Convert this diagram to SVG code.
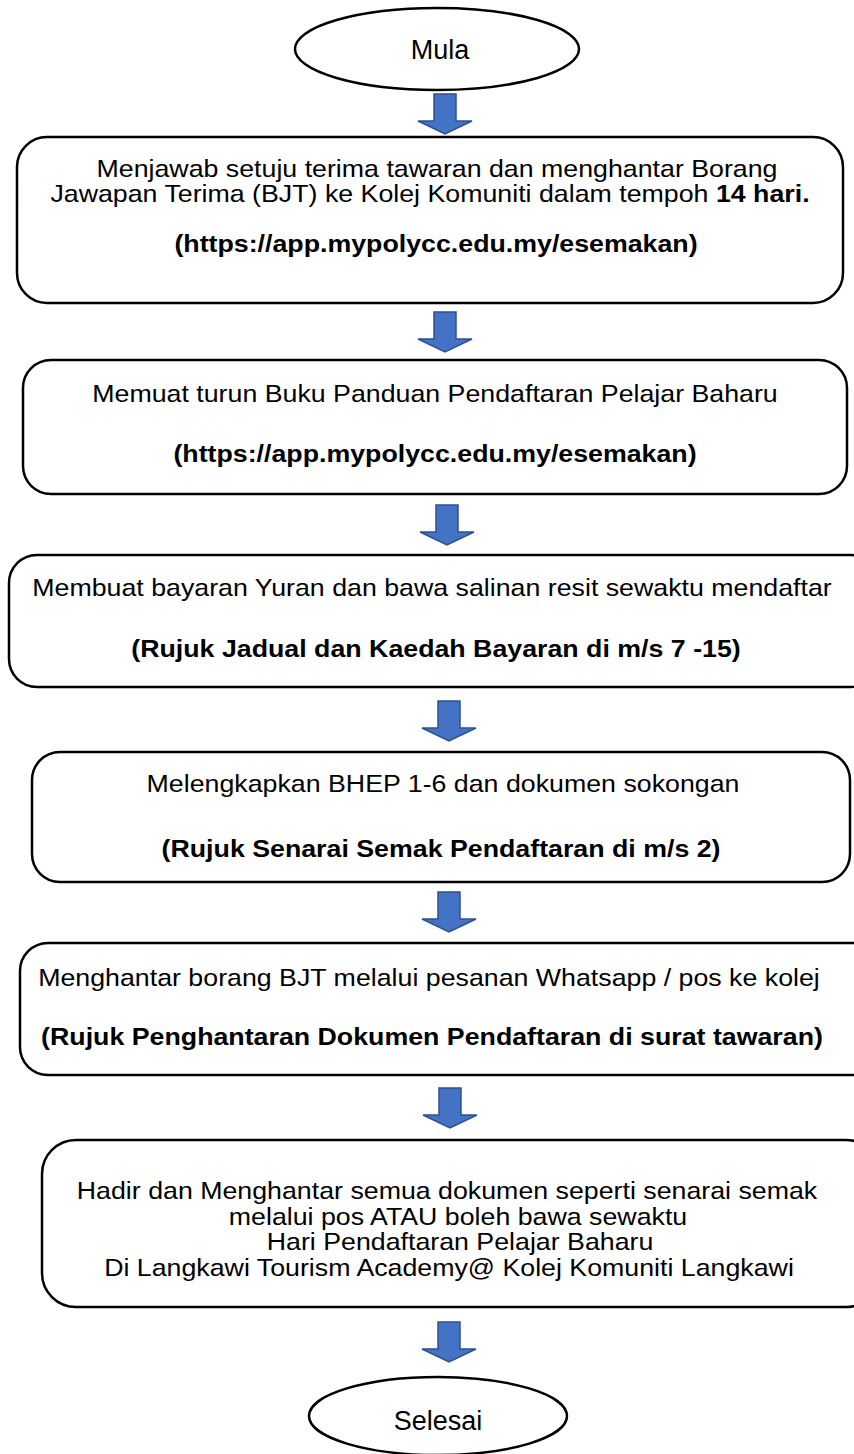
<svg xmlns="http://www.w3.org/2000/svg" xmlns:xlink="http://www.w3.org/1999/xlink" width="854" height="1454" viewBox="0 0 854 1454">
<style>
.shape{fill:#fff;stroke:#000;stroke-width:2.5}
.t{font-family:"Liberation Sans",Arial,sans-serif;font-size:24px;fill:#000;text-anchor:middle}
.b{font-weight:bold}
.e{font-family:"Liberation Sans",Arial,sans-serif;font-size:27px;fill:#000;text-anchor:middle}
.arr{fill:#4472C4;stroke:#2F528F;stroke-width:1.5}
</style>
<defs>
<polygon id="arrow" points="-11,0 11,0 11,27 27,27 0,40 -27,27 -11,27"/>
</defs>
<rect width="854" height="1454" fill="#fff"/>
<g id="connectors">
<use xlink:href="#arrow" class="arr" x="445" y="94"/>
<use xlink:href="#arrow" class="arr" x="445" y="312"/>
<use xlink:href="#arrow" class="arr" x="447" y="505"/>
<use xlink:href="#arrow" class="arr" x="449" y="701"/>
<use xlink:href="#arrow" class="arr" x="449" y="892"/>
<use xlink:href="#arrow" class="arr" x="450" y="1088"/>
<use xlink:href="#arrow" class="arr" x="449" y="1322"/>
</g>
<g id="mula">
<ellipse class="shape" cx="437" cy="49" rx="142" ry="41"/>
<text class="e" x="440" y="59">Mula</text>
</g>
<g id="step1">
<rect class="shape" x="17" y="137" width="826" height="166" rx="30"/>
<text class="t" transform="translate(437 177) scale(1.115 1)">Menjawab setuju terima tawaran dan menghantar Borang</text>
<text class="t" transform="translate(430 202) scale(1.115 1)">Jawapan Terima (BJT) ke Kolej Komuniti dalam tempoh <tspan class="b">14 hari.</tspan></text>
<text class="t b" transform="translate(436 252) scale(1.115 1)">(https://app.mypolycc.edu.my/esemakan)</text>
</g>
<g id="step2">
<rect class="shape" x="23" y="360" width="824" height="134" rx="28"/>
<text class="t" transform="translate(435 402) scale(1.115 1)">Memuat turun Buku Panduan Pendaftaran Pelajar Baharu</text>
<text class="t b" transform="translate(435 462) scale(1.115 1)">(https://app.mypolycc.edu.my/esemakan)</text>
</g>
<g id="step3">
<rect class="shape" x="9" y="555" width="870" height="132" rx="28"/>
<text class="t" transform="translate(432 596) scale(1.115 1)">Membuat bayaran Yuran dan bawa salinan resit sewaktu mendaftar</text>
<text class="t b" transform="translate(436 657) scale(1.115 1)">(Rujuk Jadual dan Kaedah Bayaran di m/s 7 -15)</text>
</g>
<g id="step4">
<rect class="shape" x="32" y="752" width="818" height="130" rx="28"/>
<text class="t" transform="translate(443 792) scale(1.115 1)">Melengkapkan BHEP 1-6 dan dokumen sokongan</text>
<text class="t b" transform="translate(441 857) scale(1.115 1)">(Rujuk Senarai Semak Pendaftaran di m/s 2)</text>
</g>
<g id="step5">
<rect class="shape" x="20" y="943" width="860" height="132" rx="28"/>
<text class="t" transform="translate(429 986) scale(1.115 1)">Menghantar borang BJT melalui pesanan Whatsapp / pos ke kolej</text>
<text class="t b" transform="translate(432 1045) scale(1.115 1)">(Rujuk Penghantaran Dokumen Pendaftaran di surat tawaran)</text>
</g>
<g id="step6">
<rect class="shape" x="42" y="1140" width="838" height="167" rx="34"/>
<text class="t" transform="translate(447 1199) scale(1.115 1)">Hadir dan Menghantar semua dokumen seperti senarai semak</text>
<text class="t" transform="translate(458 1225) scale(1.115 1)">melalui pos ATAU boleh bawa sewaktu</text>
<text class="t" transform="translate(460 1250) scale(1.115 1)">Hari Pendaftaran Pelajar Baharu</text>
<text class="t" transform="translate(449 1276) scale(1.115 1)">Di Langkawi Tourism Academy@ Kolej Komuniti Langkawi</text>
</g>
<g id="selesai">
<ellipse class="shape" cx="438" cy="1416" rx="129" ry="39"/>
<text class="e" x="438" y="1430">Selesai</text>
</g>
</svg>
